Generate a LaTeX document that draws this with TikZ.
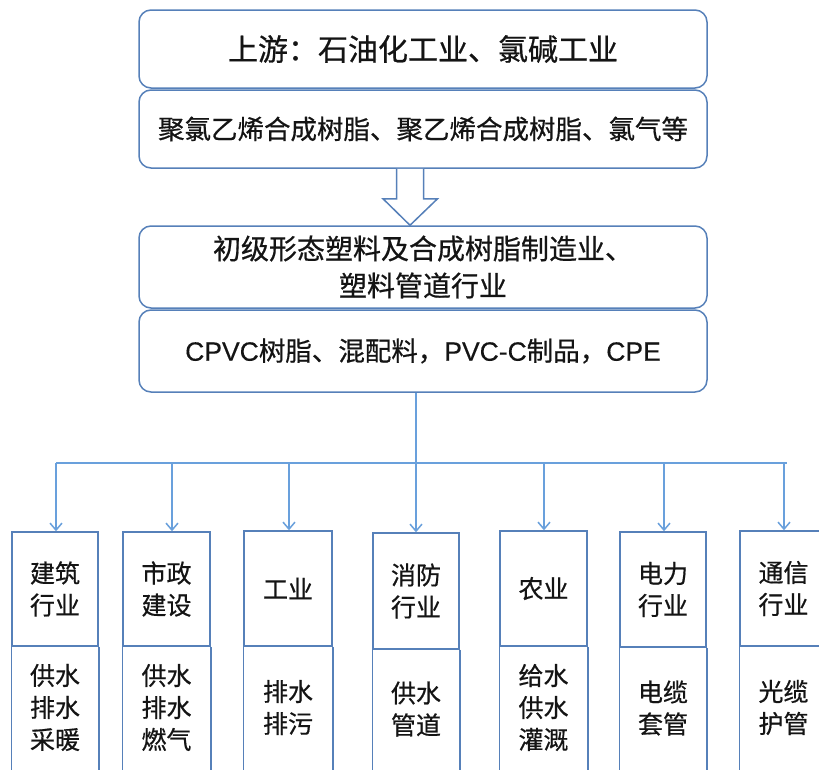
\documentclass[tikz,border=0pt]{standalone}
\usepackage{fontspec}
\setmainfont{Noto Sans CJK SC}[FakeBold=0.6]
\newfontfamily\latinf{Liberation Sans}[FakeBold=0.3]
\usetikzlibrary{arrows.meta,calc}
\definecolor{boxblue}{RGB}{86,128,185}
\definecolor{lineblue}{RGB}{105,160,220}
\definecolor{txt}{RGB}{20,20,20}
\begin{document}
\begin{tikzpicture}[x=1pt,y=-1pt,
  topbox/.style={draw=boxblue, line width=1.5pt, rounded corners=12pt, fill=white,
    minimum width=568pt, inner sep=0pt, text=txt, align=center},
  cell/.style={draw=boxblue, line width=1.5pt, inner sep=0pt, text=txt, align=center,
    font=\fontsize{25}{32}\selectfont},
  celltext/.style={draw=none, inner sep=0pt, text=txt, align=center,
    font=\fontsize{25}{32}\selectfont},
  boxline/.style={draw=boxblue, line width=1.5pt},
  conn/.style={draw=lineblue, line width=1.5pt},
  arr/.style={conn, -{Straight Barb[length=7pt,width=12pt,line width=1.5pt]}}]
\clip (0,0) rectangle (819,769);
\fill[white] (0,0) rectangle (819,769);
% top chain
\node[topbox, minimum height=78pt, font=\fontsize{30}{36}\selectfont] (up1) at (423,49) {上游：石油化工业、氯碱工业};
\node[topbox, minimum height=78pt, font=\fontsize{26.5}{32}\selectfont] (up2) at (423,129) {聚氯乙烯合成树脂、聚乙烯合成树脂、氯气等};
\node[topbox, minimum height=82pt, font=\fontsize{28}{37}\selectfont] (mid1) at (423,267) {初级形态塑料及合成树脂制造业、\\塑料管道行业};
\node[topbox, minimum height=82pt, font=\fontsize{26.5}{32}\selectfont] (mid2) at (423,351) {{\latinf CPVC}树脂、混配料，{\latinf PVC-C}制品，{\latinf CPE}};
% hollow arrow
\coordinate (ha) at ($(up2.south)+(-13,0)$);
\draw[boxline, fill=white, line join=miter]
  ($(ha)+(-13.5,0)$) -- ++(0,30) -- ++(-13.5,0) -- ($(ha |- mid1.north)$)
  -- ($(ha)+(27.5,30)$) -- ++(-14,0) -- ($(ha)+(13.5,0)$);
% bus
\coordinate (s) at ($(mid2.south)+(-7,0)$);
\coordinate (bus) at (416,463);
\coordinate (busL) at (56,463);
\coordinate (busR) at (787,463);
\draw[conn] (s) -- (s |- bus);
\draw[conn] (busL) -- (busR);
% bottom boxes
\foreach \i/\cx/\w/\t/\d/\ax/\ta/\tb in {
  1/55/86/532/646/56/{建筑\\行业}/{供水\\排水\\采暖},
  2/166.5/87/532/646/172/{市政\\建设}/{供水\\排水\\燃气},
  3/288/88/531/646/289/{工业}/{排水\\排污},
  4/416/86/533/649/416/{消防\\行业}/{供水\\管道},
  5/543.5/87/531/646/544/{农业}/{给水\\供水\\灌溉},
  6/663/86/532/647/664/{电力\\行业}/{电缆\\套管},
  7/783.5/87/531/646/784/{通信\\行业}/{光缆\\护管}}{
  \node[cell, minimum width=\w pt, minimum height={\d-\t}] (t\i) at (\cx,{(\t+\d)/2}) {\ta};
  \node[celltext] (b\i) at (\cx,{(\d+769)/2}) {\tb};
  \draw[boxline] (t\i.south west) -- ++(0,140);
  \draw[boxline] (t\i.south east) -- ++(0,140);
  \coordinate (a\i) at (\ax,463);
  \draw[arr] (a\i) -- (a\i |- t\i.north);
}
\end{tikzpicture}
\end{document}
